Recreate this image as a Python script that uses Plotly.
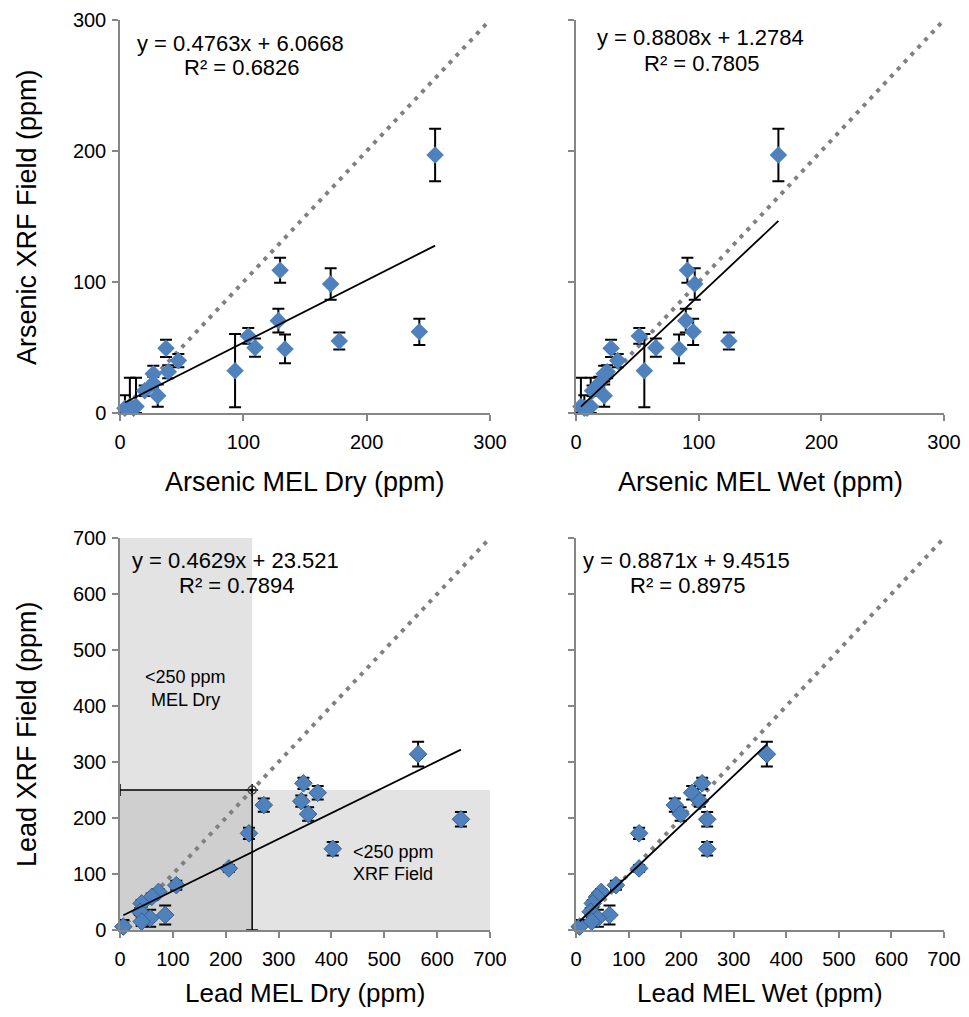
import numpy as np
import plotly.graph_objects as go

# ---------------- Data ----------------
# Arsenic (ppm)
as_mel_dry = [255.5, 129.8, 170.8, 128.4, 104.0, 109.5, 133.8, 177.8, 242.7, 93.3,
              37.3, 47.3, 39.1, 27.0, 27.0, 20.0, 30.6, 8.0, 13.0, 4.0, 11.0]
as_mel_wet = [165.0, 90.8, 96.8, 89.5, 51.6, 65.1, 84.0, 124.6, 95.5, 55.7,
              28.6, 34.0, 25.4, 23.0, 19.0, 13.5, 23.0, 4.0, 12.0, 6.8, 9.0]
as_xrf = [197.0, 109.0, 98.5, 70.5, 58.8, 49.9, 48.9, 55.0, 62.0, 32.3,
          49.4, 40.0, 31.5, 30.0, 22.6, 17.0, 13.2, 5.0, 5.0, 3.6, 3.6]
as_err = [20.0, 9.5, 12.0, 9.0, 6.0, 7.0, 11.0, 6.5, 10.0, 28.0,
          6.6, 5.0, 5.0, 6.0, 5.0, 4.0, 8.5, 22.0, 22.0, 10.0, 4.0]

# Lead (ppm)
pb_mel_dry = [564.0, 347.0, 374.0, 343.0, 272.0, 356.0, 645.0, 402.5, 244.0, 206.0,
              106.5, 72.8, 60.0, 41.0, 38.0, 85.5, 57.0, 41.0, 6.3]
pb_mel_wet = [363.0, 240.0, 221.0, 235.7, 188.0, 199.0, 249.5, 249.5, 120.0, 120.0,
              76.0, 48.0, 40.0, 32.0, 28.0, 63.7, 41.6, 30.0, 7.0]
pb_xrf = [314.0, 262.0, 245.0, 230.0, 223.0, 207.0, 197.6, 145.0, 172.6, 110.0,
          80.0, 68.0, 59.0, 47.5, 32.7, 26.8, 21.0, 15.0, 6.0]
pb_err = [22.0, 10.0, 12.0, 10.0, 12.0, 12.0, 13.0, 12.0, 10.0, 6.0,
          8.0, 5.0, 6.0, 6.0, 6.0, 17.0, 15.0, 8.0, 12.0]

# Linear trendlines (slope, intercept, R²) as reported on the chart
fits = {
    "as_dry": (0.4763, 6.0668, 0.6826),
    "as_wet": (0.8808, 1.2784, 0.7805),
    "pb_dry": (0.4629, 23.521, 0.7894),
    "pb_wet": (0.8871, 9.4515, 0.8975),
}
threshold_ppm = 250
as_ticks = [0, 100, 200, 300]
pb_ticks = [0, 100, 200, 300, 400, 500, 600, 700]

# ---------------- Styling ----------------
# page has an 8px body margin; the figure fills the rest of the 969x1017 window
OFF = 8
W, H = 969 - 2 * OFF, 1017 - 2 * OFF
FONT = "Liberation Sans, Arial, sans-serif"
BLUE = "#4f81bd"
AXIS = "#868686"

def px(x):
    return (x - OFF) / W

def py(y):
    return 1 - (y - OFF) / H

dom_x = {"L": [px(120), px(490)], "R": [px(576), px(944)]}
dom_y = {"T": [py(413), py(20)], "B": [py(930), py(538)]}

fig = go.Figure()

panels = [
    ("x", "y", as_mel_dry, as_xrf, as_err, fits["as_dry"], 300, as_ticks, False),
    ("x2", "y2", as_mel_wet, as_xrf, as_err, fits["as_wet"], 300, as_ticks, False),
    ("x3", "y3", pb_mel_dry, pb_xrf, pb_err, fits["pb_dry"], 700, pb_ticks, True),
    ("x4", "y4", pb_mel_wet, pb_xrf, pb_err, fits["pb_wet"], 700, pb_ticks, True),
]

# shaded regions in the Lead MEL Dry panel
fig.add_shape(type="rect", xref="x3", yref="y3", x0=0, x1=threshold_ppm, y0=0, y1=700,
              fillcolor="#e3e3e3", line_width=0, layer="below")
fig.add_shape(type="rect", xref="x3", yref="y3", x0=threshold_ppm, x1=700, y0=0, y1=threshold_ppm,
              fillcolor="#e3e3e3", line_width=0, layer="below")
fig.add_shape(type="rect", xref="x3", yref="y3", x0=0, x1=threshold_ppm, y0=0, y1=threshold_ppm,
              fillcolor="#cfcfcf", line_width=0, layer="below")

for xa, ya, xs, ys, es, fit, vmax, ticks, outline in panels:
    xs = np.array(xs); ys = np.array(ys); es = np.array(es)
    # 1:1 line
    fig.add_trace(go.Scatter(x=[0, vmax], y=[0, vmax], mode="lines", xaxis=xa, yaxis=ya,
                             line=dict(color="#808080", width=4, dash="4px,6px"),
                             showlegend=False, hoverinfo="skip", cliponaxis=False))
    # points with error bars
    fig.add_trace(go.Scatter(
        x=xs, y=ys, mode="markers", xaxis=xa, yaxis=ya, showlegend=False, cliponaxis=False,
        marker=dict(symbol="diamond", size=13.5, color=BLUE,
                    line=dict(color="#36618f" if outline else BLUE, width=1 if outline else 0)),
        error_y=dict(type="data", symmetric=False, array=es, arrayminus=np.minimum(es, ys),
                     color="black", thickness=2, width=6),
    ))
    # trendline
    m, b, r2 = fit
    tx = np.array([xs.min(), xs.max()])
    fig.add_trace(go.Scatter(x=tx, y=m * tx + b, mode="lines", xaxis=xa, yaxis=ya,
                             line=dict(color="black", width=1.8), showlegend=False,
                             hoverinfo="skip", cliponaxis=False))

# threshold guide in Lead MEL Dry panel
fig.add_trace(go.Scatter(
    x=[threshold_ppm], y=[threshold_ppm], mode="markers", xaxis="x3", yaxis="y3",
    showlegend=False, cliponaxis=False,
    marker=dict(symbol="circle-open", size=8, color="#404040", line=dict(width=1.5)),
    error_x=dict(type="data", symmetric=False, array=[0], arrayminus=[threshold_ppm],
                 color="black", thickness=1.5, width=6),
    error_y=dict(type="data", symmetric=False, array=[0], arrayminus=[threshold_ppm],
                 color="black", thickness=1.5, width=6),
))

axis_common = dict(showgrid=False, zeroline=False, showline=True, linecolor=AXIS, linewidth=1.5,
                   ticks="outside", ticklen=6, tickwidth=1.5, tickcolor=AXIS, automargin=False,
                   ticklabeloverflow="allow",
                   tickfont=dict(family=FONT, size=20, color="black"), fixedrange=True)

layout_axes = {}
for xa, ya, xs, ys, es, fit, vmax, ticks, outline in panels:
    col = "L" if xa in ("x", "x3") else "R"
    row = "T" if xa in ("x", "x2") else "B"
    xname = "xaxis" + xa[1:]
    yname = "yaxis" + ya[1:]
    layout_axes[xname] = dict(axis_common, domain=dom_x[col], range=[0, vmax],
                              tickvals=ticks, anchor=ya, ticklabelstandoff=4)
    layout_axes[yname] = dict(axis_common, domain=dom_y[row], range=[0, vmax],
                              tickvals=ticks, anchor=xa, showticklabels=(col == "L"),
                              ticklabelstandoff=2)

fig.update_layout(
    width=W, height=H, margin=dict(l=0, r=0, t=0, b=0, autoexpand=False),
    paper_bgcolor="white", plot_bgcolor="white", template="none",
    font=dict(family=FONT, color="black"),
    **layout_axes,
)

ann = []
def text(x, y, s, size=18, angle=0):
    ann.append(dict(x=px(x), y=py(y), xref="paper", yref="paper", text=s, showarrow=False,
                    font=dict(family=FONT, size=size, color="black"), textangle=angle,
                    xanchor="center", yanchor="middle"))

def eq(fit):
    m, b, r2 = fit
    return f"y = {m:.4f}x + {b:.4f}".rstrip("0"), f"R² = {r2:.4f}"

for key, cx, cy in [("as_dry", 240, 43), ("as_wet", 700, 38), ("pb_dry", 235, 560), ("pb_wet", 686, 560)]:
    l1, l2 = eq(fits[key])
    text(cx, cy, l1, 22)
    text(cx + 2, cy + 25, l2, 22)

text(305, 482, "Arsenic MEL Dry (ppm)", 27)
text(760, 482, "Arsenic MEL Wet (ppm)", 27)
text(305, 993, "Lead MEL Dry (ppm)", 26)
text(760, 993, "Lead MEL Wet (ppm)", 26)
text(27, 217, "Arsenic XRF Field (ppm)", 27, -90)
text(27, 734, "Lead XRF Field (ppm)", 27, -90)

text(185, 677, "&lt;250 ppm", 18)
text(185, 700, "MEL Dry", 18)
text(393, 852, "&lt;250 ppm", 18)
text(393, 874, "XRF Field", 18)

fig.update_layout(annotations=ann)
fig.write_html("out.html")
